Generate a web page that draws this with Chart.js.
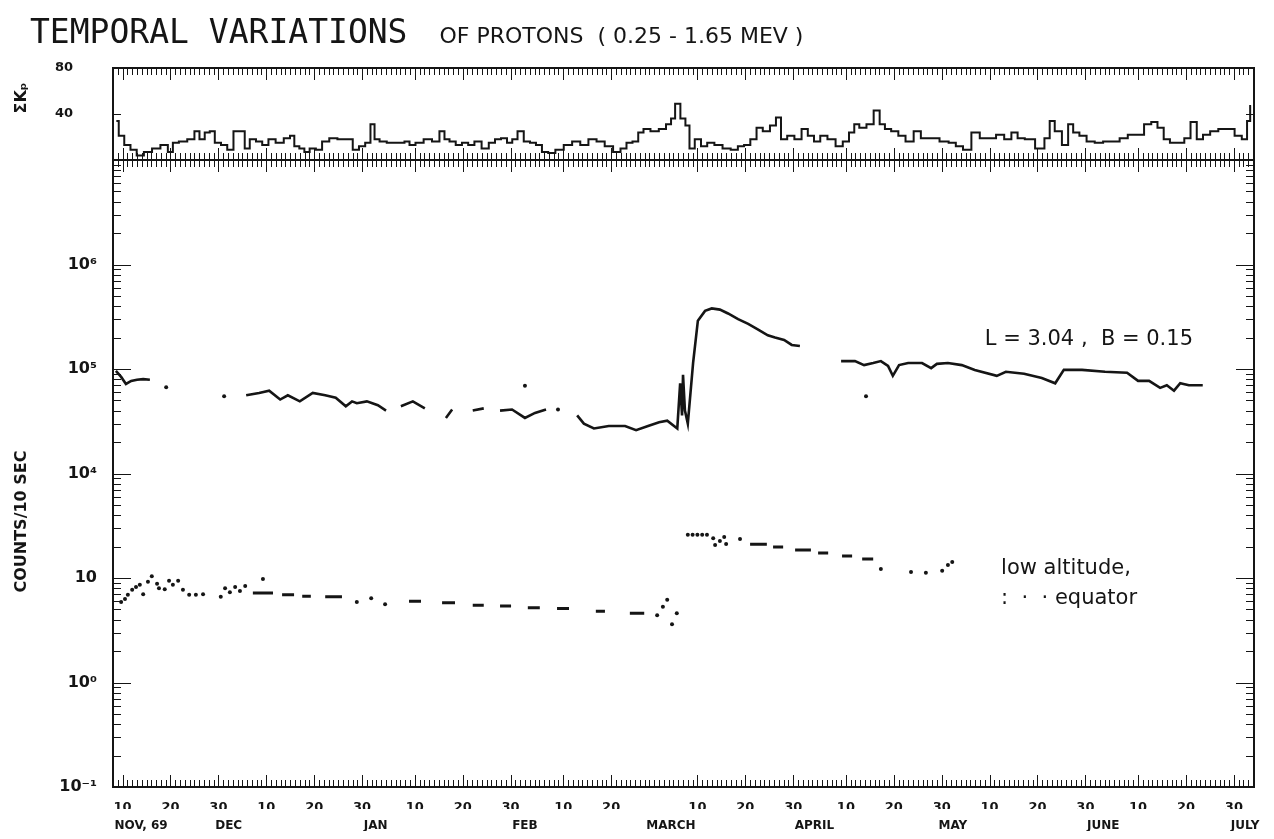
<!DOCTYPE html>
<html><head><meta charset="utf-8">
<script src="https://cdn.jsdelivr.net/npm/chart.js@4.4.1/dist/chart.umd.min.js"></script>
<style>html,body{margin:0;padding:0;background:#fff;}canvas{display:block;background:#fff;}</style>
</head><body>
<canvas id="c" width="1274" height="839"></canvas>
<script>
// ---------- time axis (days since 1969-11-01) ----------
const ORIGIN = Date.UTC(1969, 10, 1);
const dayOf = s => { const [y, m, d] = s.split('-').map(Number); return (Date.UTC(y, m - 1, d) - ORIGIN) / 864e5; };
const domOf = day => new Date(ORIGIN + Math.round(day) * 864e5).getUTCDate();
const axisStartDay = 7, axisEndDay = 245.2;
const dayLabelDates = [10, 20, 30];
const monthTickDates = ['1969-11-10','1969-12-01','1970-01-01','1970-02-01','1970-03-01','1970-04-01','1970-05-01','1970-06-01','1970-07-01'];
const monthTickLabels = ['NOV, 69','DEC','JAN','FEB','MARCH','APRIL','MAY','JUNE','JULY'];

// ---------- y axes ----------
const countTickValues = [0.1, 1, 10, 1e4, 1e5, 1e6];
const countTickLabels = ['10\u207B\u00B9','10\u2070','10','10\u2074','10\u2075','10\u2076'];
const kpTickValues = [40, 80];
const kpTickLabels = ['40', '80'];
// broken log axis: counts above the break are drawn two decades lower
const breakAbove = 1000, breakFactor = 100;
const pos = v => v == null ? null : (v >= breakAbove ? v / breakFactor : v);

// ---------- sum Kp ----------
const kpDays = [7.7,8.7,10.0,11.3,12.6,14.3,16.0,17.8,19.1,19.9,21.6,23.4,24.6,25.5,26.8,27.6,28.9,30.2,31.5,32.8,34.1,34.9,36.2,37.5,38.8,40.1,41.8,43.5,44.4,45.3,46.5,47.4,48.7,50.0,51.3,53.0,54.7,56.4,57.7,59.0,60.3,61.2,62.0,63.3,65.0,67.2,68.5,69.3,71.0,72.7,74.5,75.8,76.6,77.9,79.2,80.5,81.8,83.1,84.8,86.1,87.4,88.6,89.9,90.8,92.1,93.4,94.7,95.9,97.2,98.5,100.2,102.0,103.7,105.4,107.1,108.8,110.5,112.3,113.6,114.8,116.1,117.2,118.3,120.1,121.8,123.1,123.9,124.8,126.1,126.9,127.8,129.1,130.4,131.7,133.4,135.1,136.8,138.1,139.4,140.7,142.0,143.3,145.0,145.8,147.1,148.4,150.1,151.4,152.7,154.0,155.3,157.0,158.7,160.0,161.3,162.2,163.4,165.2,166.4,167.7,168.6,170.3,171.6,173.3,175.0,176.3,178.5,180.6,182.3,183.6,185.3,187.1,188.8,190.5,192.2,193.9,195.2,196.5,198.2,200.8,202.1,203.0,204.2,206.0,206.8,208.1,209.4,211.1,212.8,214.6,216.3,218.0,219.7,221.4,223.1,224.4,225.7,227.0,228.3,230.0,231.3,232.6,233.9,235.2,236.9,238.6,240.3,242.0,243.3,244.2,244.6];
const kpSum = [34,21,13,9,4,7,10,13,7,15,16,18,25,18,24,25,15,13,9,25,25,10,18,16,13,18,15,19,21,12,10,7,10,9,16,19,18,18,9,12,15,31,18,16,15,15,16,13,15,18,16,25,18,16,13,15,13,16,10,15,18,19,15,18,25,16,15,13,7,6,9,13,16,13,18,16,12,7,10,15,16,24,27,25,27,31,36,49,36,30,10,18,12,15,13,10,9,12,13,18,28,25,30,37,18,21,18,27,21,16,21,18,12,16,24,31,28,31,43,31,27,25,21,16,25,19,19,16,15,12,9,24,19,19,22,18,24,19,18,10,19,34,25,13,31,24,21,16,15,16,16,19,22,22,31,33,28,18,15,15,19,33,18,22,25,27,27,21,18,34,47];

// ---------- L = 3.04, B = 0.15 (counts / 10 s), null = data gap ----------
const hiDays = [7.6,8.7,9.7,10.8,12.0,13.3,14.7, 20,
  34.8,37.5,39.6,41.9,43.5,46.0,48.7,51.3,53.5,55.6,56.9,57.9,60.0,62.3,64.0, 65.5,
  67.1,69.6,72.1, 74,
  76.5,77.8, 80,
  82.1,84.4, 86,
  87.8,90.3,93.0,95.1,97.4, 100,
  103.9,105.3,107.4,110.5,113.9,116.2,118.7,121.0,122.7,124.8,125.4,125.8,126.0,126.4,127.0,128.1,129.1,130.6,132.0,133.7,135.4,137.5,139.6,141.6,143.7,145.2,147.1,148.7,150.4, 155,
  159.0,161.9,163.8,165.7,167.3,168.8,169.8,171.1,173.0,175.9,177.8,179.0,181.3,184.2,186.9,191.5,193.4,197.2,200.9,203.7,205.5,209.3,214.1,218.7,221.0,223.3,225.6,227.0,228.5,229.8,231.6,234.5];
const hiCounts = [9.6e4,8.4e4,7.2e4,7.7e4,7.9e4,8.0e4,7.9e4, null,
  5.6e4,5.9e4,6.2e4,5.1e4,5.6e4,4.9e4,5.9e4,5.6e4,5.3e4,4.4e4,4.9e4,4.7e4,4.9e4,4.5e4,4.0e4, null,
  4.4e4,4.9e4,4.2e4, null,
  3.4e4,4.1e4, null,
  4.0e4,4.2e4, null,
  4.0e4,4.1e4,3.4e4,3.8e4,4.1e4, null,
  3.6e4,3.0e4,2.7e4,2.85e4,2.85e4,2.6e4,2.85e4,3.1e4,3.2e4,2.7e4,7.3e4,3.6e4,8.8e4,4.0e4,3.0e4,1.14e5,2.9e5,3.6e5,3.8e5,3.7e5,3.4e5,3.0e5,2.7e5,2.4e5,2.1e5,2.0e5,1.9e5,1.7e5,1.66e5, null,
  1.19e5,1.19e5,1.09e5,1.14e5,1.19e5,1.07e5,8.6e4,1.09e5,1.14e5,1.14e5,1.02e5,1.12e5,1.14e5,1.09e5,9.8e4,8.6e4,9.4e4,9.0e4,8.2e4,7.3e4,9.8e4,9.8e4,9.4e4,9.2e4,7.7e4,7.7e4,6.6e4,7.0e4,6.2e4,7.3e4,7.0e4,7.0e4];
const hiDotDays = [18.1, 30.2, 93.0, 99.9, 164.2];
const hiDotCounts = [6.7e4, 5.5e4, 6.9e4, 4.1e4, 5.5e4];

// ---------- low altitude, equator ----------
const loDotDays = [8.7,9.5,10.1,11.0,11.8,12.6,13.3,14.3,15.1,16.2,16.6,17.8,18.7,19.5,20.6,21.6,22.9,24.3,25.8,29.5,30.4,31.4,32.5,33.5,34.6,38.3,57.9,60.9,63.8,120.6,121.8,122.7,123.7,124.7,127.0,128.0,129.0,130.0,131.0,132.3,132.7,133.7,134.6,135.0,137.9,167.3,173.6,176.7,180.1,181.3,182.2];
const loDotCounts = [5.9,6.3,6.9,7.7,8.2,8.6,7.0,9.2,10.4,8.8,8.0,7.8,9.4,8.6,9.4,7.7,6.9,6.9,7.0,6.6,8.0,7.3,8.2,7.5,8.4,9.8,5.9,6.4,5.6,4.4,5.3,6.2,3.6,4.6,26,26,26,26,26,24,20.7,22.6,24.7,21.1,23.6,12.2,11.4,11.2,11.7,13.3,14.2];
const loDashStart = [36.2,42.3,46.5,51.3,68.8,75.7,82.1,87.8,93.6,99.7,107.8,114.9,140.0,144.8,149.4,154.2,159.2,163.4];
const loDashEnd   = [40.4,44.8,48.3,54.8,71.3,78.4,84.4,90.1,96.1,102.2,109.7,117.9,143.5,146.9,152.7,156.3,161.3,165.7];
const loDashCounts = [7.2,6.9,6.7,6.6,6.0,5.8,5.5,5.4,5.2,5.1,4.8,4.6,21,19.8,18.5,17.3,16.2,15.2];

// ---------- texts ----------
const titleParts = ['TEMPORAL VARIATIONS', 'OF PROTONS  ( 0.25 - 1.65 MEV )'];
const notes = [
  {text: 'L = 3.04 ,  B = 0.15', day: 189.0, counts: 1.9e5},
  {text: 'low altitude,', day: 192.4, counts: 12.2},
  {text: ':  \u00B7  \u00B7 equator', day: 192.4, counts: 6.3}
];

// ---------- build datasets ----------
const kpData = kpDays.map((d, i) => ({x: d, y: kpSum[i]}));
const hiData = hiDays.map((d, i) => ({x: d, y: pos(hiCounts[i])}));
const hiDotData = hiDotDays.map((d, i) => ({x: d, y: pos(hiDotCounts[i])}));
const loDotData = loDotDays.map((d, i) => ({x: d, y: pos(loDotCounts[i])}));
const loDashData = [];
loDashStart.forEach((s, i) => {
  loDashData.push({x: s, y: pos(loDashCounts[i])}, {x: loDashEnd[i], y: pos(loDashCounts[i])}, {x: loDashEnd[i] + 0.05, y: null});
});

const INK = '#151515';
const FONT = '"DejaVu Sans", "Liberation Sans", sans-serif';

const framePlugin = {
  id: 'frame',
  afterDatasetsDraw(chart) {
    const {ctx} = chart;
    const sx = chart.scales.x, sk = chart.scales.yKp, sc = chart.scales.y;
    const L = sx.left, R = sx.right;
    ctx.save();
    ctx.strokeStyle = INK;
    ctx.lineWidth = 1;
    ctx.beginPath();
    for (let d = Math.ceil(sx.min); d <= sx.max; d++) {
      const px = Math.round(sx.getPixelForValue(d)) + 0.5;
      const len = (domOf(d) % 10 === 0) ? 12 : 7;
      [[sk.top, 1], [sk.bottom, -1], [sc.top, 1], [sc.bottom, -1]].forEach(([y0, dir]) => {
        ctx.moveTo(px, y0); ctx.lineTo(px, y0 + dir * len);
      });
    }
    for (let n = -1; n <= 4; n++) {
      for (let k = 1; k <= 9; k++) {
        const v = k * Math.pow(10, n);
        if (v >= sc.max) continue;
        const py = Math.round(sc.getPixelForValue(v)) + 0.5;
        const len = k === 1 ? 18 : 8;
        ctx.moveTo(L, py); ctx.lineTo(L + len, py);
        ctx.moveTo(R, py); ctx.lineTo(R - len, py);
      }
    }
    kpTickValues.forEach(v => {
      if (v >= sk.max) return;
      const py = Math.round(sk.getPixelForValue(v)) + 0.5;
      ctx.moveTo(L, py); ctx.lineTo(L + 8, py);
      ctx.moveTo(R, py); ctx.lineTo(R - 8, py);
    });
    ctx.stroke();
    ctx.lineWidth = 2;
    ctx.strokeRect(L, sk.top, R - L, sk.bottom - sk.top);
    ctx.strokeRect(L, sc.top, R - L, sc.bottom - sc.top);
    // annotations
    ctx.fillStyle = INK;
    ctx.textBaseline = 'middle';
    ctx.textAlign = 'left';
    ctx.font = '21px ' + FONT;
    notes.forEach(n => {
      ctx.fillText(n.text, sx.getPixelForValue(n.day), sc.getPixelForValue(pos(n.counts)));
    });
    // title
    ctx.textBaseline = 'alphabetic';
    ctx.font = '33px "DejaVu Sans Mono", monospace';
    ctx.fillText(titleParts[0], 30, 43);
    const w = ctx.measureText(titleParts[0]).width;
    ctx.font = '22px ' + FONT;
    ctx.fillText(titleParts[1], 30 + w + 32, 43);
    ctx.restore();
  }
};

new Chart(document.getElementById('c'), {
  type: 'line',
  data: {
    datasets: [
      {label: 'Sum Kp', data: kpData, xAxisID: 'x', yAxisID: 'yKp', stepped: 'middle', borderColor: INK, borderWidth: 2, pointRadius: 0, fill: false},
      {label: 'L = 3.04, B = 0.15', data: hiData, xAxisID: 'x', yAxisID: 'y', borderColor: INK, borderWidth: 2.6, pointRadius: 0, spanGaps: false, tension: 0},
      {label: 'L = 3.04 points', data: hiDotData, xAxisID: 'x', yAxisID: 'y', showLine: false, pointRadius: 2, pointBackgroundColor: INK, pointBorderWidth: 0},
      {label: 'low altitude dashes', data: loDashData, xAxisID: 'x', yAxisID: 'y', borderColor: INK, borderWidth: 3, pointRadius: 0, spanGaps: false},
      {label: 'low altitude points', data: loDotData, xAxisID: 'x', yAxisID: 'y', showLine: false, pointRadius: 2, pointBackgroundColor: INK, pointBorderWidth: 0}
    ]
  },
  options: {
    responsive: false,
    animation: false,
    events: [],
    layout: {padding: {top: 68, left: 8, right: 20, bottom: 8}},
    plugins: {legend: {display: false}, tooltip: {enabled: false}, title: {display: false}},
    scales: {
      x: {
        type: 'linear', position: 'bottom', min: axisStartDay, max: axisEndDay, weight: 0,
        grid: {display: false, drawTicks: false}, border: {display: false},
        afterBuildTicks: s => {
          const t = [];
          for (let d = Math.ceil(s.min); d <= s.max; d++) if (dayLabelDates.includes(domOf(d))) t.push({value: d});
          s.ticks = t;
        },
        afterFit: s => { s.height = 22; s.paddingLeft = 0; s.paddingRight = 0; },
        ticks: {autoSkip: false, maxRotation: 0, padding: 13, color: INK, font: {family: FONT, size: 13, weight: 'bold'}, callback: v => String(domOf(v))}
      },
      x2: {
        type: 'linear', position: 'bottom', min: axisStartDay, max: axisEndDay, weight: 1,
        grid: {display: false, drawTicks: false}, border: {display: false},
        afterBuildTicks: s => { s.ticks = monthTickDates.map(d => ({value: dayOf(d)})); },
        afterFit: s => { s.height = 22; s.paddingLeft = 0; s.paddingRight = 0; },
        ticks: {autoSkip: false, maxRotation: 0, padding: 10, align: 'start', labelOffset: -8, color: INK, font: {family: FONT, size: 12, weight: 'bold'}, callback: (v, i) => monthTickLabels[i]}
      },
      y: {
        type: 'logarithmic', position: 'left', stack: 'panels', stackWeight: 627, min: 0.1, max: 1e5,
        grid: {display: false, drawTicks: false}, border: {display: false},
        afterBuildTicks: s => { s.ticks = countTickValues.map(v => ({value: pos(v)})); },
        afterFit: s => { s.width = 105; },
        title: {display: true, text: 'COUNTS/10 SEC' + '\u2003'.repeat(6), color: INK, font: {family: FONT, size: 16, weight: 'bold'}, padding: {top: 4, bottom: 0}},
        ticks: {padding: 16, color: INK, font: {family: FONT, size: 16, weight: 'bold'}, callback: (v, i) => countTickLabels[i]}
      },
      yKp: {
        type: 'linear', position: 'left', stack: 'panels', stackWeight: 92, min: 0, max: 80,
        grid: {display: false, drawTicks: false}, border: {display: false},
        afterBuildTicks: s => { s.ticks = kpTickValues.map(v => ({value: v})); },
        afterFit: s => { s.width = 105; },
        title: {display: true, text: '\u2003\u2003\u03A3K\u209A', color: INK, font: {family: FONT, size: 16, weight: 'bold'}, padding: {top: 4, bottom: 0}},
        ticks: {padding: 40, color: INK, font: {family: FONT, size: 13, weight: 'bold'}, callback: (v, i) => kpTickLabels[i]}
      }
    }
  },
  plugins: [framePlugin]
});
</script>
</body></html>
